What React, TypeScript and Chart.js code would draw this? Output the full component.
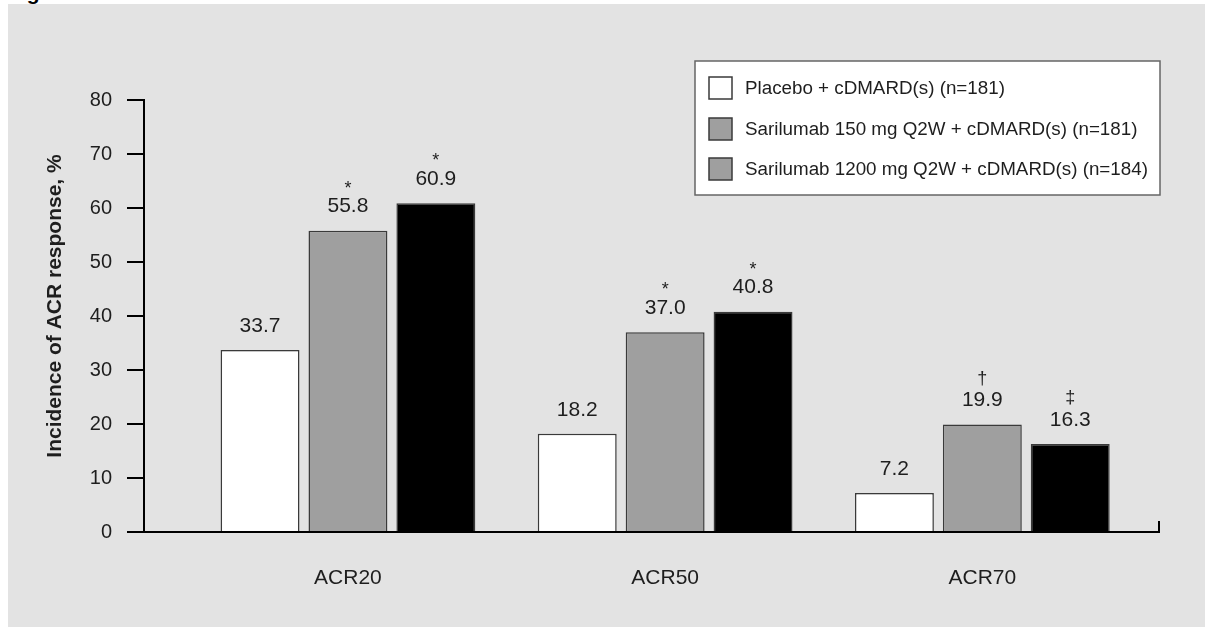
import React, { useEffect, useRef } from "react";
import { Chart, registerables } from "chart.js";

Chart.register(...registerables);

const categories = ["ACR20", "ACR50", "ACR70"];
const seriesNames = [
  "Placebo + cDMARD(s) (n=181)",
  "Sarilumab 150 mg Q2W + cDMARD(s) (n=181)",
  "Sarilumab 1200 mg Q2W + cDMARD(s) (n=184)",
];
const placebo = [33.7, 18.2, 7.2];
const sari150 = [55.8, 37.0, 19.9];
const sari1200 = [60.9, 40.8, 16.3];
const markers150 = ["*", "*", "\u2020"];
const markers1200 = ["*", "*", "\u2021"];
const yTicks = [0, 10, 20, 30, 40, 50, 60, 70, 80];
const yTitle = "Incidence of ACR response, %";

const FONT = "'Liberation Sans', Arial, sans-serif";
const TEXT = "#1e1e1e";
const BG = "#e3e3e3";
const FILLS = ["#ffffff", "#9f9f9f", "#000000"];
const LEGEND_FILLS = ["#ffffff", "#9f9f9f", "#9f9f9f"];
const BORDER = "#3a3a3a";

const annotationPlugin = {
  id: "annotations",
  afterDatasetsDraw(chart: any) {
    const ctx = chart.ctx;
    const markers = [["", "", ""], markers150, markers1200];
    ctx.save();
    ctx.fillStyle = TEXT;
    ctx.textAlign = "center";
    ctx.textBaseline = "middle";
    chart.data.datasets.forEach((ds: any, i: number) => {
      const meta = chart.getDatasetMeta(i);
      meta.data.forEach((bar: any, j: number) => {
        const v = ds.data[j];
        ctx.font = `21px ${FONT}`;
        ctx.fillText(v.toFixed(1), bar.x, bar.y - 24);
        const m = markers[i][j];
        if (m) {
          ctx.font = m === "*" ? `18px ${FONT}` : `18px ${FONT}`;
          ctx.fillText(m, bar.x, bar.y - (m === "*" ? 42 : 46));
        }
      });
    });
    // right end tick of the x axis
    const a = chart.chartArea;
    ctx.strokeStyle = "#000";
    ctx.lineWidth = 2;
    ctx.beginPath();
    ctx.moveTo(a.right, a.bottom + 1);
    ctx.lineTo(a.right, a.bottom - 11);
    ctx.stroke();

    // y axis title
    ctx.save();
    ctx.translate(47, (a.top + a.bottom) / 2 - 10);
    ctx.rotate(-Math.PI / 2);
    ctx.font = `bold 21px ${FONT}`;
    ctx.fillStyle = TEXT;
    ctx.fillText(yTitle, 0, 0);
    ctx.restore();

    // legend
    const lx = 687, ly = 57, lw = 465, lh = 134;
    ctx.fillStyle = "#ffffff";
    ctx.fillRect(lx, ly, lw, lh);
    ctx.strokeStyle = "#666";
    ctx.lineWidth = 1.5;
    ctx.strokeRect(lx, ly, lw, lh);
    const rows = [84, 125, 165];
    seriesNames.forEach((name, i) => {
      const cy = rows[i];
      ctx.fillStyle = LEGEND_FILLS[i];
      ctx.fillRect(701, cy - 11, 23, 22);
      ctx.strokeStyle = BORDER;
      ctx.lineWidth = 1.5;
      ctx.strokeRect(701, cy - 11, 23, 22);
      ctx.fillStyle = TEXT;
      ctx.textAlign = "left";
      ctx.font = `18.8px ${FONT}`;
      ctx.fillText(name, 737, cy + 1);
    });
    ctx.restore();
  },
};

export default function App() {
  const ref = useRef<HTMLCanvasElement | null>(null);
  useEffect(() => {
    if (!ref.current) return;
    const chart = new Chart(ref.current, {
      type: "bar",
      data: {
        labels: categories,
        datasets: [placebo, sari150, sari1200].map((d, i) => ({
          label: seriesNames[i],
          data: d,
          backgroundColor: FILLS[i],
          borderColor: BORDER,
          borderWidth: 1.5,
          borderSkipped: "bottom",
          categoryPercentage: 0.8315,
          barPercentage: 0.8977,
        })),
      },
      options: {
        responsive: false,
        animation: false,
        layout: { padding: { left: 0, right: 46, top: 96, bottom: 0 } },
        plugins: { legend: { display: false }, tooltip: { enabled: false } },
        scales: {
          x: {
            z: 1,
            afterBuildTicks: (s: any) => {
              s._startValue = -0.643;
              s._valueRange = 3.2;
            },
            afterFit: (s: any) => {
              s.height = 95;
            },
            grid: { display: false, drawTicks: false },
            border: { display: true, color: "#000", width: 2 },
            ticks: { color: TEXT, font: { family: FONT, size: 21 }, padding: 34 },
          },
          y: {
            z: 1,
            min: 0,
            max: 80,
            afterBuildTicks: (s: any) => {
              s.ticks = yTicks.map((v) => ({ value: v }));
            },
            afterFit: (s: any) => {
              s.width = 136;
            },
            grid: {
              drawOnChartArea: false,
              drawTicks: true,
              tickLength: 17,
              color: "#000",
              lineWidth: 2,
            },
            border: { display: true, color: "#000", width: 2 },
            ticks: { color: TEXT, font: { family: FONT, size: 20 }, padding: 15 },
          },
        },
      },
      plugins: [annotationPlugin],
    });
    return () => chart.destroy();
  }, []);
  return (
    <div style={{ position: "absolute", left: 0, top: 0, width: 1205, height: 627, overflow: "hidden", background: "#fff" }}>
      <div style={{ position: "absolute", left: 8, top: -19, font: `bold 21px ${FONT}`, color: "#000" }}>Fig. 2</div>
      <div style={{ position: "absolute", left: 8, top: 4, width: 1197, height: 623, background: BG }}>
        <canvas ref={ref} width={1197} height={623} style={{ display: "block" }} />
      </div>
    </div>
  );
}
